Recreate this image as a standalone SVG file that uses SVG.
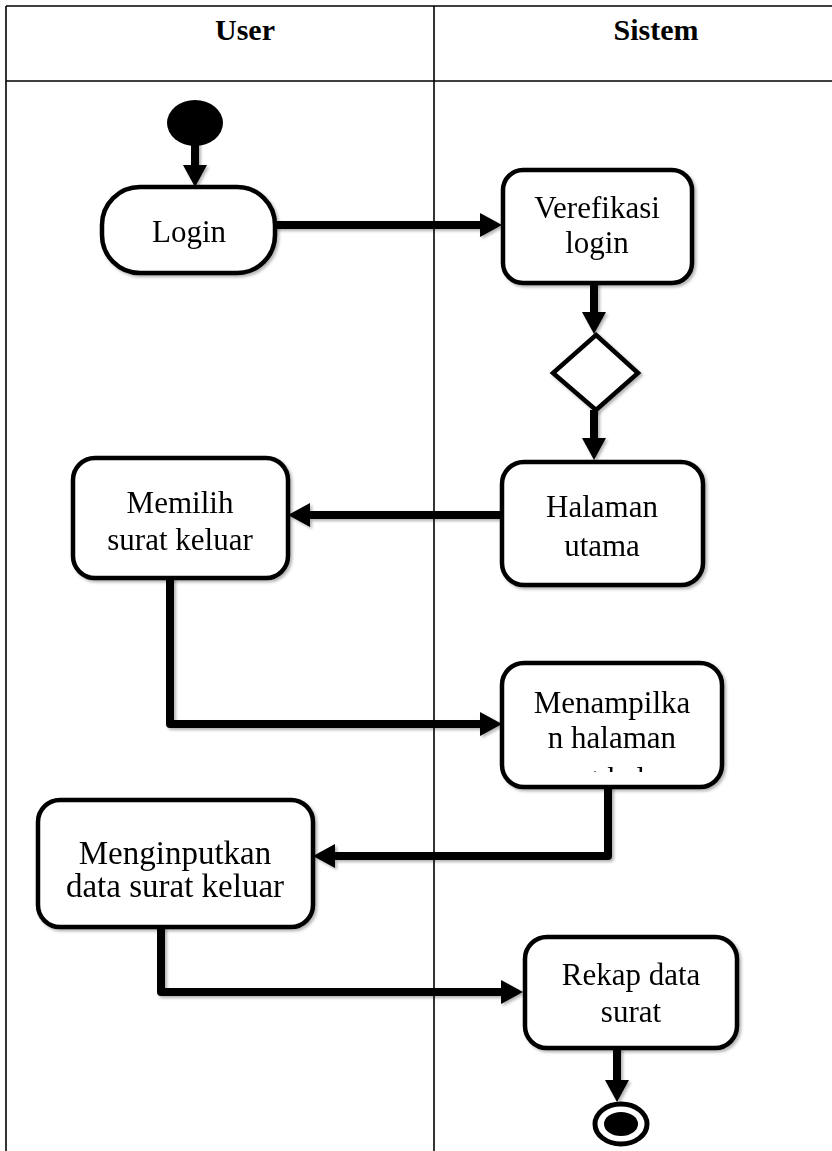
<svg xmlns="http://www.w3.org/2000/svg" width="832" height="1151" viewBox="0 0 832 1151">
<style>
  .lane { stroke: #000; stroke-width: 1.6; fill: none; }
  .hdr { font-family: "Liberation Serif", "Times New Roman", serif; font-weight: bold; font-size: 30px; text-anchor: middle; fill: #000; }
  .box { fill: #fff; stroke: #000; stroke-width: 4.5; }
  .lbl { font-family: "Liberation Serif", "Times New Roman", serif; font-size: 31px; text-anchor: middle; fill: #000; }
  .big { font-size: 33px; }
  .con { fill: none; stroke: #000; stroke-width: 8; stroke-linejoin: round; marker-end: url(#arrow); }
</style>
<defs>
  <marker id="arrow" viewBox="0 0 22 24" refX="0" refY="12" markerWidth="22" markerHeight="24" markerUnits="userSpaceOnUse" orient="auto">
    <path d="M0,0 L22,12 L0,24 Z" fill="#000"/>
  </marker>
  <filter id="sh" x="-10%" y="-10%" width="130%" height="130%">
    <feDropShadow dx="2" dy="2" stdDeviation="1.5" flood-color="#000" flood-opacity="0.3"/>
  </filter>
  <clipPath id="clipTampil">
    <rect x="505" y="666" width="214" height="106"/>
  </clipPath>
</defs>

<g id="swimlanes">
  <line class="lane" x1="6" y1="6" x2="832" y2="6"/>
  <line class="lane" x1="6" y1="6" x2="6" y2="1151"/>
  <line class="lane" x1="6" y1="81" x2="832" y2="81"/>
  <line class="lane" x1="434" y1="6" x2="434" y2="1151"/>
  <text class="hdr" x="245" y="40">User</text>
  <text class="hdr" x="656" y="40">Sistem</text>
</g>

<g id="connectors" filter="url(#sh)">
  <path class="con" d="M195,142 V165"/>
  <path class="con" d="M275,225 H480"/>
  <path class="con" d="M594,283 V312"/>
  <path class="con" d="M594,410 V438"/>
  <path class="con" d="M502,515 H310"/>
  <path class="con" d="M170,578 V724 H480"/>
  <path class="con" d="M608,787 V856 H335"/>
  <path class="con" d="M161,927 V992 H501"/>
  <path class="con" d="M617,1048 V1080"/>
</g>

<g id="start">
  <ellipse cx="195" cy="123" rx="28" ry="23" fill="#000"/>
</g>

<g id="login" filter="url(#sh)">
  <rect class="box" x="102" y="187" width="173" height="86" rx="38" ry="38"/>
  <text class="lbl" x="189" y="242">Login</text>
</g>

<g id="verefikasi" filter="url(#sh)">
  <rect class="box" x="503" y="170" width="189" height="113" rx="20" ry="20"/>
  <text class="lbl" x="597" y="218">Verefikasi</text>
  <text class="lbl" x="597" y="253">login</text>
</g>

<g id="decision" filter="url(#sh)">
  <polygon points="596,335 638,373 596,410 553,373" fill="#fff" stroke="#000" stroke-width="4.5" stroke-linejoin="miter"/>
</g>

<g id="halaman-utama" filter="url(#sh)">
  <rect class="box" x="502" y="462" width="201" height="123" rx="22" ry="22"/>
  <text class="lbl" x="602" y="517">Halaman</text>
  <text class="lbl" x="602" y="556">utama</text>
</g>

<g id="memilih" filter="url(#sh)">
  <rect class="box" x="73" y="458" width="215" height="120" rx="22" ry="22"/>
  <text class="lbl" x="180" y="513">Memilih</text>
  <text class="lbl" x="180" y="550">surat keluar</text>
</g>

<g id="menampilkan" filter="url(#sh)">
  <rect class="box" x="502" y="663" width="220" height="124" rx="22" ry="22"/>
  <g clip-path="url(#clipTampil)">
    <text class="lbl" x="612" y="713">Menampilka</text>
    <text class="lbl" x="612" y="748">n halaman</text>
    <text class="lbl" x="612" y="789">surat keluar</text>
  </g>
</g>

<g id="menginputkan" filter="url(#sh)">
  <rect class="box" x="38" y="800" width="275" height="127" rx="22" ry="22"/>
  <text class="lbl big" x="175" y="864">Menginputkan</text>
  <text class="lbl big" x="175" y="897">data surat keluar</text>
</g>

<g id="rekap" filter="url(#sh)">
  <rect class="box" x="525" y="937" width="212" height="111" rx="22" ry="22"/>
  <text class="lbl" x="631" y="985">Rekap data</text>
  <text class="lbl" x="631" y="1022">surat</text>
</g>

<g id="end">
  <ellipse cx="621" cy="1124" rx="26" ry="20" fill="#fff" stroke="#000" stroke-width="5"/>
  <ellipse cx="621" cy="1124" rx="17" ry="12" fill="#000"/>
</g>
</svg>
